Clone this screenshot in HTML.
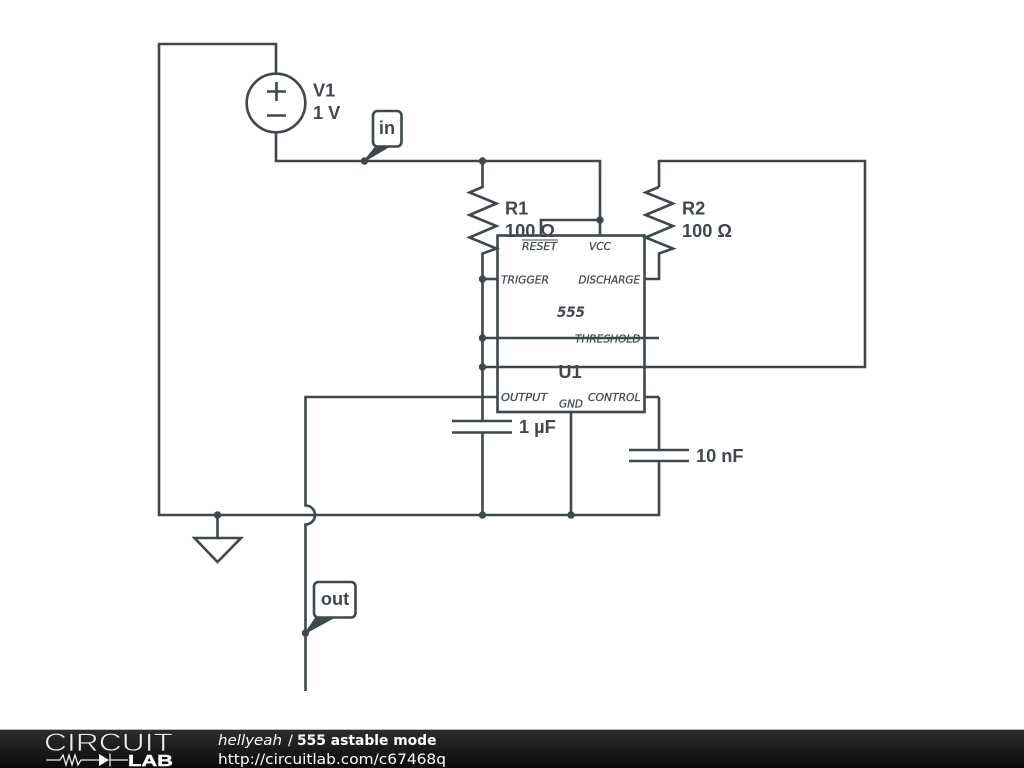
<!DOCTYPE html>
<html><head><meta charset="utf-8"><title>555 astable mode</title>
<style>html,body{margin:0;padding:0;background:#fff;width:1024px;height:768px;overflow:hidden}svg{display:block}</style></head>
<body>
<svg width="1024" height="768" viewBox="0 0 1024 768" xmlns="http://www.w3.org/2000/svg">
<defs><linearGradient id="f" x1="0" y1="0" x2="0" y2="1"><stop offset="0" stop-color="#2e2e2e"/><stop offset="1" stop-color="#0a0a0a"/></linearGradient></defs>
<rect width="1024" height="768" fill="#fff"/>
<g fill="none" stroke="#3f484c" stroke-width="2.600" stroke-linejoin="miter">
<path d="M276 73V44H159V515H305.500"/>
<path d="M276 132V161H600V235"/>
<path d="M541 235V220H600"/>
<path d="M482.500 161V187L469.500 192.500L496.500 203.500L469.500 215L496.500 226L469.500 237.500L496.500 248.500L482.500 253.500V421"/>
<path d="M482.500 432.500V515"/>
<path d="M452 421H512M452 432.500H512"/>
<path d="M629 450H689M629 461H689"/>
<path d="M659 397H645M659 397V450M659 461V515H305.500"/>
<path d="M659 187V161H865V367H482.500"/>
<path d="M659 187L645.500 192.500L673 203.500L645.500 215L673 226L645.500 237.500L673 248.500L659 253.500V279H645"/>
<path d="M482.500 279H497"/>
<path d="M482.500 338H659"/>
<path d="M497 397H305.500V505.500A9.500 9.500 0 0 1 305.500 524.500V691"/>
<path d="M571 412V515"/>
<rect x="497.500" y="235.500" width="147" height="176.500"/>
<circle cx="276" cy="103" r="29.300"/>
<path d="M267 91.500H286M276.500 82V101M267 115.500H286"/>
<path d="M217.500 515V538M194.500 538H241L217.500 562Z"/>
<rect x="373" y="111" width="28.500" height="35.500" rx="4.500" fill="#fff"/>
<rect x="314" y="582" width="41.500" height="35.500" rx="4.500" fill="#fff"/>
</g>
<g fill="#3f484c">
<circle cx="482.500" cy="161" r="3.700"/><circle cx="600" cy="220" r="3.700"/><circle cx="482.500" cy="279" r="3.700"/><circle cx="482.500" cy="338" r="3.700"/><circle cx="482.500" cy="367" r="3.700"/><circle cx="482.500" cy="515" r="3.700"/><circle cx="571" cy="515" r="3.700"/><circle cx="217.500" cy="515" r="3.700"/><circle cx="364.500" cy="161" r="3.700"/><circle cx="305.500" cy="633" r="3.700"/>
<path d="M364.500 161L376 146.500H389Z" stroke="#3f484c" stroke-width="1.500" stroke-linejoin="round"/>
<path d="M305.500 633L316 617.500H334Z" stroke="#3f484c" stroke-width="1.500" stroke-linejoin="round"/>
</g>
<g font-family="'Liberation Sans',sans-serif" font-weight="700" font-size="18.200" fill="#3f484c">
<text x="313" y="96.500">V1</text><text x="313" y="119">1 V</text>
<text x="505" y="214.500">R1</text><text x="505" y="237">100 Ω</text>
<text x="682" y="214.500">R2</text><text x="682" y="237">100 Ω</text>
<text x="519" y="433">1 µF</text><text x="696" y="462">10 nF</text>
<text x="570" y="378" text-anchor="middle">U1</text>
<text x="387" y="134" text-anchor="middle">in</text><text x="335" y="605" text-anchor="middle">out</text>
</g>
<g font-family="'DejaVu Sans',sans-serif" font-style="oblique" font-size="11" fill="#3f484c" stroke="#3f484c" stroke-width="0.250">
<text x="522" y="250" textLength="35" lengthAdjust="spacingAndGlyphs">RESET</text><text x="589" y="250" textLength="22" lengthAdjust="spacingAndGlyphs">VCC</text>
<text x="501" y="283.500" textLength="48" lengthAdjust="spacingAndGlyphs">TRIGGER</text><text x="578.500" y="283.500" textLength="61.500" lengthAdjust="spacingAndGlyphs">DISCHARGE</text>
<text x="575" y="342.500" textLength="65.500" lengthAdjust="spacingAndGlyphs">THRESHOLD</text>
<text x="501" y="401" textLength="46.500" lengthAdjust="spacingAndGlyphs">OUTPUT</text><text x="588" y="401" textLength="52.500" lengthAdjust="spacingAndGlyphs">CONTROL</text>
<text x="559" y="407.500" textLength="24" lengthAdjust="spacingAndGlyphs">GND</text>
<text x="557" y="317" font-size="14.500" font-weight="700" stroke="none" textLength="28" lengthAdjust="spacingAndGlyphs">555</text>
</g>
<path d="M522 240H558" stroke="#3f484c" stroke-width="1"/>
<rect y="729" width="1024" height="39" fill="url(#f)"/>
<rect y="729" width="1024" height="1" fill="#bbb"/>
<text x="44" y="751" font-family="'Liberation Sans',sans-serif" font-size="25" fill="#f0f0f0" stroke="#1e1e1e" stroke-width="0.700" textLength="129" lengthAdjust="spacingAndGlyphs">CIRCUIT</text>
<path d="M46 760H60L63 755L66 765L69 755L72 765L75 755L78 765L81 760H99M110 760H128M110 753.500V766.500" stroke="#eee" stroke-width="1.300" fill="none"/>
<path d="M99 754L109 760L99 766Z" fill="#fff"/>
<text x="128" y="766" font-family="'Liberation Sans',sans-serif" font-size="16" font-weight="700" fill="#fff" stroke="#fff" stroke-width="0.400" textLength="45" lengthAdjust="spacingAndGlyphs">LAB</text>
<g font-family="'DejaVu Sans',sans-serif" font-size="14.500" fill="#fff">
<text x="218" y="745" font-style="oblique" textLength="64" lengthAdjust="spacingAndGlyphs">hellyeah</text>
<text x="288" y="745">/</text>
<text x="297" y="745" font-weight="700" textLength="139.500" lengthAdjust="spacingAndGlyphs">555 astable mode</text>
<text x="218" y="764" textLength="228" lengthAdjust="spacingAndGlyphs">http://circuitlab.com/c67468q</text>
</g>
</svg>
</body></html>
